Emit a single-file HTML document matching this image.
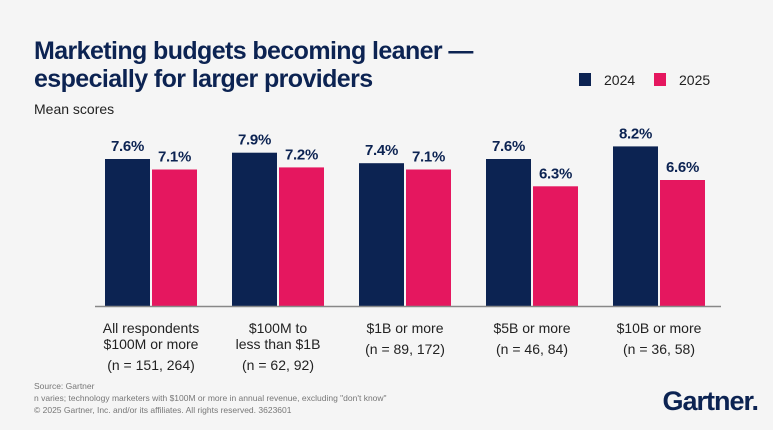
<!DOCTYPE html>
<html><head><meta charset="utf-8"><style>
body{margin:0;width:773px;height:430px;background:#f5f5f5;overflow:hidden;font-family:"Liberation Sans",sans-serif}
#c{position:absolute;left:0;top:0}
</style></head><body>
<svg id="c" width="773" height="430">
<text x="34" y="59" font-size="25" font-weight="bold" fill="#0c2352" letter-spacing="-0.6">Marketing budgets becoming leaner —</text>
<text x="34" y="87" font-size="25" font-weight="bold" fill="#0c2352" letter-spacing="-0.6">especially for larger providers</text>
<text x="34" y="114" font-size="14" fill="#222">Mean scores</text>
<g>
<rect x="579" y="73" width="12" height="13" fill="#0c2352"/>
<text x="604" y="85" font-size="14" fill="#222">2024</text>
<rect x="654" y="73" width="12" height="13" fill="#e5175f"/>
<text x="679" y="85" font-size="14" fill="#222">2025</text>
</g>
<g id="bars"></g>
<line x1="95" y1="306.5" x2="721" y2="306.5" stroke="#888" stroke-width="1.5"/>
<text x="34" y="389" font-size="8.5" fill="#777">Source: Gartner</text>
<text x="34" y="401" font-size="8.5" fill="#777">n varies; technology marketers with $100M or more in annual revenue, excluding "don't know"</text>
<text x="34" y="413" font-size="8.5" fill="#777">© 2025 Gartner, Inc. and/or its affiliates. All rights reserved. 3623601</text>
<text x="758" y="410" font-size="27" font-weight="bold" fill="#0c2352" text-anchor="end" letter-spacing="-1">Gartner.</text>
</svg>
<script>
const categories=[["All respondents","$100M or more","(n = 151, 264)"],["$100M to","less than $1B","(n = 62, 92)"],["$1B or more","(n = 89, 172)"],["$5B or more","(n = 46, 84)"],["$10B or more","(n = 36, 58)"]];
const values2024=[7.6,7.9,7.4,7.6,8.2];
const values2025=[7.1,7.2,7.1,6.3,6.6];
const valueLabels2024=["7.6%","7.9%","7.4%","7.6%","8.2%"];
const valueLabels2025=["7.1%","7.2%","7.1%","6.3%","6.6%"];
const NS="http://www.w3.org/2000/svg";
const base=306,vmin=0.6,k=21;
const y=v=>base-(v-vmin)*k;
const gx=i=>151+i*127;
const g=document.getElementById('bars');
function mk(t,a){const e=document.createElementNS(NS,t);for(const p in a)e.setAttribute(p,a[p]);g.appendChild(e);return e;}
categories.forEach((c,i)=>{
 [[values2024,valueLabels2024,"#0c2352",-46,"2024"],[values2025,valueLabels2025,"#e5175f",1,"2025"]].forEach(s=>{
  const v=s[0][i],x=gx(i)+s[3];
  const r=mk('rect',{x:x,y:y(v),width:45,height:base-y(v),fill:s[2]});
  
  
  const t=mk('text',{x:x+22.5,y:y(v)-8,'font-size':15,'font-weight':'bold',fill:'#0c2352','text-anchor':'middle','letter-spacing':'-0.3'});
  t.textContent=s[1][i];
  
  
 });
 const lines=c;
 const ys=lines.length===3?[333,349,370]:[333,354];
 lines.forEach((l,j)=>{
  const t=mk('text',{x:gx(i),y:ys[j],'font-size':14,fill:'#222','text-anchor':'middle'});
  t.textContent=l;
  
  
 });
});
</script>
</body></html>
